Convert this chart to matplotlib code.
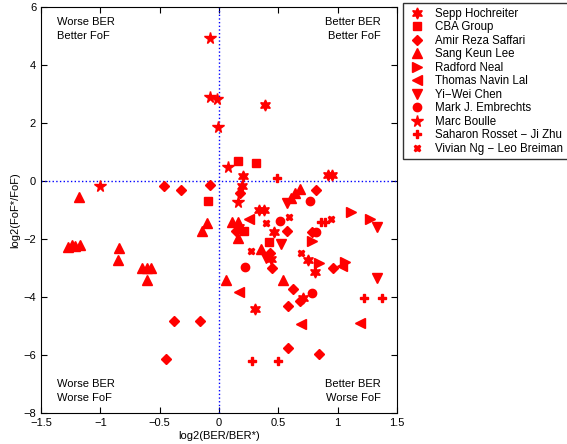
import matplotlib
matplotlib.use('Agg')
import matplotlib.pyplot as plt

names = ['Sepp Hochreiter', 'CBA Group', 'Amir Reza Saffari', 'Sang Keun Lee',
         'Radford Neal', 'Thomas Navin Lal', 'Yi\u2212Wei Chen', 'Mark J. Embrechts',
         'Marc Boulle', 'Saharon Rosset \u2212 Ji Zhu', 'Vivian Ng \u2212 Leo Breiman']
markers = [(6, 1, 0), 's', 'D', '^', '>', '<', 'v', 'o', '*', 'P', 'X']
sizes = [8, 5.5, 5.5, 7, 7, 7, 7, 6, 8.5, 5.5, 4.5]

# log2(BER/BER*) and log2(FoF*/FoF) per team
sepp_x = [0.39, 0.20, 0.19, 0.92, 0.95, 0.34, 0.38, 0.17, 0.46, 0.44, 0.75, 0.81, 0.71, 0.30]
sepp_y = [2.62, 0.17, -0.17, 0.21, 0.21, -1.0, -1.0, -1.59, -1.76, -2.69, -2.72, -3.14, -4.03, -4.41]
cba_x = [0.16, 0.31, -0.09, 0.21, 0.42]
cba_y = [0.69, 0.62, -0.69, -1.72, -2.10]
amir_x = [-0.46, -0.32, -0.08, 0.18, 0.82, 0.14, 0.57, 0.78, 0.43, 0.45, 0.96, 0.62, 0.68,
          0.58, -0.38, -0.16, -0.45, 0.58, 0.84]
amir_y = [-0.17, -0.31, -0.14, -0.41, -0.31, -1.72, -1.72, -1.76, -2.48, -3.0, -3.0, -3.72,
          -4.14, -4.31, -4.83, -4.83, -6.14, -5.76, -5.97]
sang_x = [0.61, 0.64, 0.68, -1.18, -0.10, -0.14, 0.11, 0.16, 0.16, 0.35, -1.27, -1.24, -1.21,
          -1.17, -0.84, -0.85, -0.65, -0.61, -0.57, -0.61, 0.06, 0.54]
sang_y = [-0.59, -0.41, -0.28, -0.55, -1.45, -1.72, -1.41, -1.41, -1.97, -2.34, -2.28, -2.21,
          -2.24, -2.21, -2.31, -2.72, -3.0, -3.0, -3.0, -3.41, -3.41, -3.41]
radford_x = [1.11, 1.27, 0.78, 0.84, 1.06]
radford_y = [-1.07, -1.31, -2.07, -2.83, -2.79]
thomas_x = [0.25, 1.04, 0.17, 0.69, 1.19]
thomas_y = [-1.31, -2.93, -3.83, -4.93, -4.90]
yiwei_x = [0.57, 1.33, 0.52, 0.40, 1.33]
yiwei_y = [-0.76, -1.59, -2.17, -2.66, -3.34]
mark_x = [0.77, 0.51, 0.82, 0.22, 0.78]
mark_y = [-0.69, -1.38, -1.76, -2.97, -3.86]
marc_x = [-0.08, -0.08, -0.02, -0.01, 0.08, -1.0, 0.16]
marc_y = [4.93, 2.90, 2.83, 1.86, 0.48, -0.17, -0.72]
saharon_x = [0.49, 0.86, 0.89, 1.22, 1.37, 0.28, 0.50]
saharon_y = [0.10, -1.41, -1.41, -4.03, -4.03, -6.21, -6.21]
vivian_x = [0.40, 0.59, 0.94, 0.27, 0.69]
vivian_y = [-1.45, -1.24, -1.31, -2.41, -2.48]

xs = [sepp_x, cba_x, amir_x, sang_x, radford_x, thomas_x, yiwei_x, mark_x, marc_x, saharon_x, vivian_x]
ys = [sepp_y, cba_y, amir_y, sang_y, radford_y, thomas_y, yiwei_y, mark_y, marc_y, saharon_y, vivian_y]

plt.rcParams['font.family'] = ['Liberation Sans', 'DejaVu Sans']

fig = plt.figure(figsize=(5.67, 4.44), dpi=100)
ax = fig.add_axes([0.0723, 0.0698, 0.6279, 0.9144])

ax.axhline(0, color='blue', linestyle=':', linewidth=1)
ax.axvline(0, color='blue', linestyle=':', linewidth=1)

handles = []
for x, y, m, s, n in zip(xs, ys, markers, sizes, names):
    h, = ax.plot(x, y, linestyle='none', marker=m, markersize=s, color='red',
                 markeredgecolor='red', label=n)
    handles.append(h)

ax.set_xlim(-1.5, 1.5)
ax.set_ylim(-8, 6)
ax.set_xticks([-1.5, -1, -0.5, 0, 0.5, 1, 1.5])
ax.set_xticklabels(['\u22121.5', '\u22121', '\u22120.5', '0', '0.5', '1', '1.5'])
ax.set_yticks([-8, -6, -4, -2, 0, 2, 4, 6])
ax.set_yticklabels(['\u22128', '\u22126', '\u22124', '\u22122', '0', '2', '4', '6'])
ax.tick_params(direction='in', labelsize=8, length=4, top=True, right=True)
ax.set_xlabel('log2(BER/BER*)', fontsize=8, labelpad=2)
ax.set_ylabel('log2(FoF*/FoF)', fontsize=8, labelpad=2)

ax.text(0.045, 0.975, 'Worse BER\nBetter FoF', transform=ax.transAxes, fontsize=8,
        va='top', ha='left', linespacing=1.5)
ax.text(0.955, 0.975, 'Better BER\nBetter FoF', transform=ax.transAxes, fontsize=8,
        va='top', ha='right', linespacing=1.5)
ax.text(0.045, 0.025, 'Worse BER\nWorse FoF', transform=ax.transAxes, fontsize=8,
        va='bottom', ha='left', linespacing=1.5)
ax.text(0.955, 0.025, 'Better BER\nWorse FoF', transform=ax.transAxes, fontsize=8,
        va='bottom', ha='right', linespacing=1.5)

leg = fig.legend(handles=handles, loc='upper left', bbox_to_anchor=(0.711, 0.993),
                 fontsize=8.3, frameon=True, fancybox=False, edgecolor='black',
                 handlelength=1.6, handletextpad=0.8, labelspacing=0.13,
                 borderpad=0.4, borderaxespad=0)
leg.get_frame().set_linewidth(1)

fig.savefig('out.png', dpi=100)
